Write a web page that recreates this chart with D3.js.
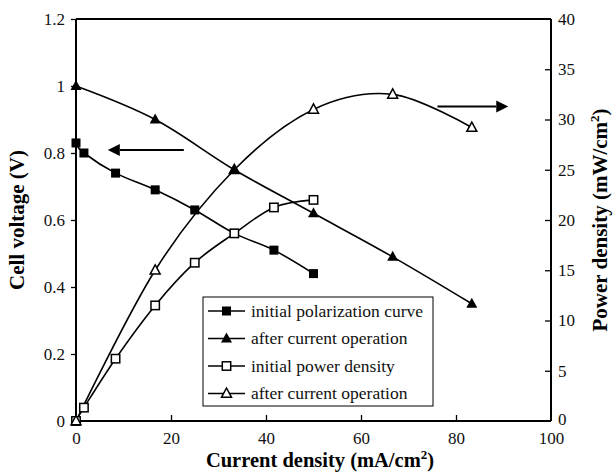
<!DOCTYPE html>
<html>
<head>
<meta charset="utf-8">
<script src="https://cdn.jsdelivr.net/npm/d3@7"></script>
<style>
  html, body { margin: 0; padding: 0; background: #fff; }
  svg { display: block; font-family: "Liberation Serif", "Times New Roman", serif; }
</style>
</head>
<body>
<svg id="chart" width="613" height="472"></svg>
<script>
// Current density (mA/cm2) for the initial run
const initialCurrent = [0, 1.67, 8.33, 16.67, 25, 33.33, 41.67, 50];
// Cell voltage (V) of the initial polarization curve
const initialVoltage = [0.83, 0.80, 0.74, 0.69, 0.63, 0.56, 0.51, 0.44];
// Power density (mW/cm2) of the initial run
const initialPower = [0, 1.33, 6.2, 11.5, 15.75, 18.67, 21.25, 22.0];

// Current density (mA/cm2) after current operation
const afterCurrent = [0, 16.67, 33.33, 50, 66.67, 83.33];
// Cell voltage (V) after current operation
const afterVoltage = [1.0, 0.90, 0.75, 0.62, 0.49, 0.35];
// Power density (mW/cm2) after current operation
const afterPower = [0, 15.0, 25.0, 31.0, 32.5, 29.2];

// Tick values
const xTicks = [0, 20, 40, 60, 80, 100];
const yLeftTicks = [0, 0.2, 0.4, 0.6, 0.8, 1, 1.2];
const yRightTicks = [0, 5, 10, 15, 20, 25, 30, 35, 40];

const legendLabels = [
  "initial polarization curve",
  "after current operation",
  "initial power density",
  "after current operation"
];

const FONT = "'Liberation Serif', 'Times New Roman', serif";
const svg = d3.select("#chart");
const plotLeft = 76, plotRight = 551, plotTop = 19, plotBottom = 421;

const x = d3.scaleLinear().domain([0, 100]).range([plotLeft, plotRight]);
const yV = d3.scaleLinear().domain([0, 1.2]).range([plotBottom, plotTop]);
const yP = d3.scaleLinear().domain([0, 40]).range([plotBottom, plotTop]);

// Axes
const fmtV = d => (d === 0 ? "0" : d3.format("~g")(d));
const axL = svg.append("g").attr("transform", `translate(${plotLeft},0)`)
  .call(d3.axisLeft(yV).tickValues(yLeftTicks).tickFormat(fmtV).tickSize(5).tickPadding(6));
const axR = svg.append("g").attr("transform", `translate(${plotRight},0)`)
  .call(d3.axisRight(yP).tickValues(yRightTicks).tickSize(-6).tickPadding(7));
const axB = svg.append("g").attr("transform", `translate(0,${plotBottom})`)
  .call(d3.axisBottom(x).tickValues(xTicks).tickSize(-6).tickPadding(11));
const axT = svg.append("g").attr("transform", `translate(0,${plotTop})`)
  .call(d3.axisTop(x).tickValues([]).tickSizeOuter(0));

[axL, axR, axB, axT].forEach(g => {
  g.attr("font-family", FONT).attr("font-size", 17);
  g.select(".domain").attr("stroke", "#000").attr("stroke-width", 2);
  g.selectAll(".tick line").attr("stroke", "#000").attr("stroke-width", 1.3);
  g.selectAll(".tick text").attr("fill", "#111").style("font-size", "17px")
    .style("font-family", FONT);
});
axL.select(".domain").attr("d", `M0,${plotTop}V${plotBottom}`);
axR.select(".domain").attr("d", `M0,${plotTop}V${plotBottom}`);
axB.select(".domain").attr("d", `M${plotLeft},0H${plotRight}`);
axT.select(".domain").attr("d", `M${plotLeft},0H${plotRight}`);
axB.selectAll(".tick line").filter(d => d === 0 || d === 100).remove();
axR.selectAll(".tick line").filter(d => d === 0 || d === 40).remove();
axR.selectAll(".tick text").filter(d => d === 0).attr("dy", "0.2em");

// Axis titles
svg.append("text")
  .attr("x", 320).attr("y", 467)
  .attr("text-anchor", "middle")
  .style("font-family", FONT)
  .style("font-size", "20.5px").style("font-weight", "bold")
  .call(t => {
    t.append("tspan").text("Current density (mA/cm");
    t.append("tspan").text("2").attr("dy", -8).style("font-size", "13px");
    t.append("tspan").text(")").attr("dy", 8);
  });

svg.append("text")
  .attr("transform", `translate(24,${(plotTop + plotBottom) / 2}) rotate(-90)`)
  .attr("text-anchor", "middle")
  .style("font-family", FONT)
  .style("font-size", "21px").style("font-weight", "bold")
  .text("Cell voltage (V)");

svg.append("text")
  .attr("transform", `translate(607,${(plotTop + plotBottom) / 2}) rotate(-90)`)
  .attr("text-anchor", "middle")
  .style("font-family", FONT)
  .style("font-size", "21px").style("font-weight", "bold")
  .call(t => {
    t.append("tspan").text("Power density (mW/cm");
    t.append("tspan").text("2").attr("dy", -8).style("font-size", "13px");
    t.append("tspan").text(")").attr("dy", 8);
  });

// Series
const smooth = d3.curveCardinal.tension(0);
const series = [
  { xs: initialCurrent, ys: initialVoltage, y: yV, marker: "fsq" },
  { xs: afterCurrent, ys: afterVoltage, y: yV, marker: "ftri" },
  { xs: initialCurrent, ys: initialPower, y: yP, marker: "osq" },
  { xs: afterCurrent, ys: afterPower, y: yP, marker: "otri" }
];

const lines = svg.append("g");
series.forEach(s => {
  const pts = s.xs.map((v, i) => [v, s.ys[i]]);
  lines.append("path")
    .attr("d", d3.line().x(d => x(d[0])).y(d => s.y(d[1])).curve(smooth)(pts))
    .attr("fill", "none").attr("stroke", "#000").attr("stroke-width", 1.6);
});

function drawMarker(g, type, cx, cy) {
  if (type === "fsq") {
    g.append("rect").attr("x", cx - 4.5).attr("y", cy - 4.5).attr("width", 9).attr("height", 9)
      .attr("fill", "#000");
  } else if (type === "osq") {
    g.append("rect").attr("x", cx - 4.2).attr("y", cy - 4.2).attr("width", 8.4).attr("height", 8.4)
      .attr("fill", "#fff").attr("stroke", "#000").attr("stroke-width", 1.5);
  } else if (type === "ftri") {
    g.append("path").attr("d", `M${cx},${cy - 6}L${cx + 5.5},${cy + 4}L${cx - 5.5},${cy + 4}Z`)
      .attr("fill", "#000");
  } else {
    g.append("path").attr("d", `M${cx},${cy - 5.5}L${cx + 5},${cy + 3.8}L${cx - 5},${cy + 3.8}Z`)
      .attr("fill", "#fff").attr("stroke", "#000").attr("stroke-width", 1.5);
  }
}

// Markers: filled squares, open squares, open triangles, filled triangles on top
const markers = svg.append("g");
[0, 2, 3, 1].forEach(k => {
  const s = series[k];
  s.xs.forEach((v, i) => drawMarker(markers, s.marker, x(v), s.y(s.ys[i])));
});

// Arrows pointing to each curve's axis
function arrow(x1, x2, yy) {
  const dir = Math.sign(x2 - x1);
  const headLen = 12, headHalf = 6;
  svg.append("line").attr("x1", x1).attr("x2", x2 - dir * headLen)
    .attr("y1", yy).attr("y2", yy).attr("stroke", "#000").attr("stroke-width", 2);
  svg.append("path")
    .attr("d", `M${x2},${yy}L${x2 - dir * headLen},${yy - headHalf}L${x2 - dir * headLen},${yy + headHalf}Z`)
    .attr("fill", "#000");
}
arrow(x(22.7), x(6.7), yV(0.809));
arrow(x(76.1), x(91.0), yP(31.3));

// Legend
const lg = svg.append("g");
lg.append("rect").attr("x", 203).attr("y", 297).attr("width", 230).attr("height", 109)
  .attr("fill", "#fff").attr("stroke", "#000").attr("stroke-width", 1);
legendLabels.forEach((lab, i) => {
  const cy = 311 + i * 27.5;
  lg.append("line").attr("x1", 208).attr("x2", 245).attr("y1", cy).attr("y2", cy)
    .attr("stroke", "#000").attr("stroke-width", 1.6);
  drawMarker(lg, series[i].marker, 226.5, cy);
  lg.append("text").attr("x", 251).attr("y", cy).attr("dy", "0.33em")
    .style("font-family", FONT)
    .style("font-size", "17.5px").attr("fill", "#111").text(lab);
});
</script>
</body>
</html>
